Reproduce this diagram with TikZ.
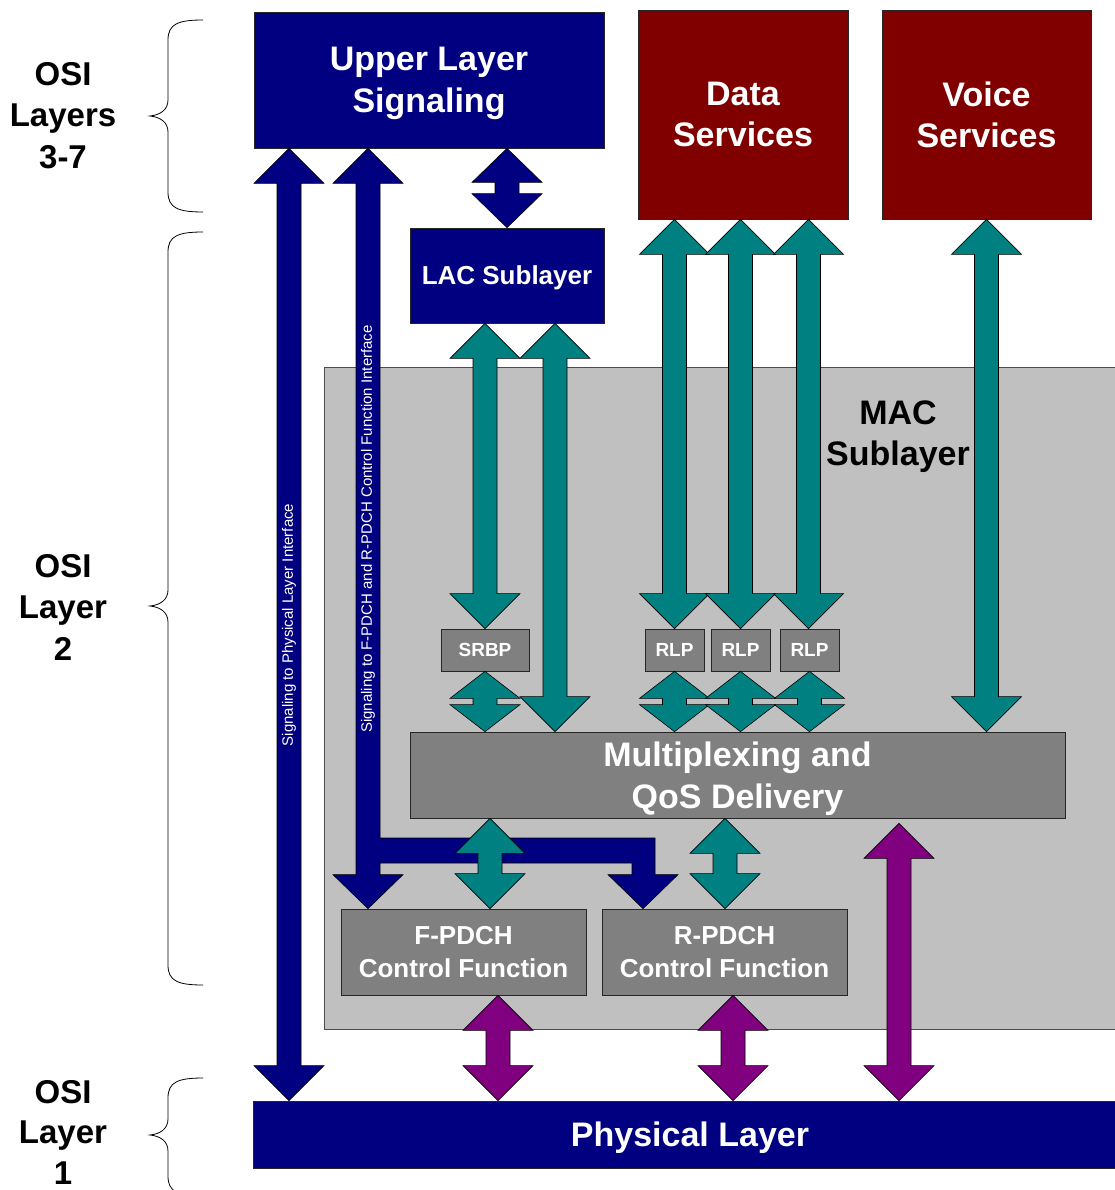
\documentclass[tikz,border=0pt]{standalone}
\usepackage{fontspec}
\setmainfont{Liberation Sans}
\usetikzlibrary{calc}
\definecolor{navyc}{HTML}{000080}
\definecolor{maroonc}{HTML}{800000}
\definecolor{tealc}{HTML}{008080}
\definecolor{purplec}{HTML}{800080}
\definecolor{macgray}{HTML}{C0C0C0}
\definecolor{boxgray}{HTML}{808080}
% #1 fill colour, #2 x (px), #3 top anchor, #4 bottom anchor, #5 head length
\newcommand\dblarr[5]{%
  \draw[blk,fill=#1] let \p1=(#3), \p2=(#4) in
   (#2pt,\y1) -- (#2pt+35pt,\y1-#5pt) -- (#2pt+12pt,\y1-#5pt) -- (#2pt+12pt,\y2+#5pt)
   -- (#2pt+35pt,\y2+#5pt) -- (#2pt,\y2) -- (#2pt-35pt,\y2+#5pt) -- (#2pt-12pt,\y2+#5pt)
   -- (#2pt-12pt,\y1-#5pt) -- (#2pt-35pt,\y1-#5pt) -- cycle;}
\begin{document}
\begin{tikzpicture}[x=1pt,y=-1pt,
  box/.style={draw=black!85, line width=0.7pt, inner sep=0pt, align=center, text=white,
    text depth=0pt, font=\bfseries\fontsize{34}{41.5}\selectfont},
  navybox/.style={box, fill=navyc},
  redbox/.style={box, fill=maroonc},
  graybox/.style={box, fill=boxgray},
  small/.style={font=\bfseries\fontsize{19}{22}\selectfont},
  mid/.style={font=\bfseries\fontsize{26}{33}\selectfont},
  osi/.style={align=center, text=black, text depth=0pt, font=\bfseries\fontsize{33}{41.5}\selectfont},
  blk/.style={draw=black, line width=0.6pt, line join=miter},
  brace/.style={draw=black, line width=0.8pt},
  vlabel/.style={rotate=90, text=white, font=\fontsize{15}{18}\selectfont, inner sep=0pt}]
\useasboundingbox (0,0) rectangle (1114,1190);

% MAC sublayer area
\node[draw=black!70, fill=macgray, line width=0.8pt, minimum width=796pt, minimum height=662pt, inner sep=0pt] (mac) at (722,698) {};
\node[osi, font=\bfseries\fontsize{34}{41.5}\selectfont] (mactext) at (898,433) {MAC\\Sublayer};

% boxes
\node[navybox, minimum width=350pt, minimum height=136pt] (ul) at (429,80) {Upper Layer\\Signaling};
\node[redbox, minimum width=210pt, minimum height=209pt] (ds) at (743,114.5) {Data\\Services};
\node[redbox, minimum width=209pt, minimum height=209pt] (vs) at (986.5,114.5) {Voice\\Services};
\node[navybox, mid, minimum width=194pt, minimum height=95pt] (lac) at (507,275.5) {LAC Sublayer};
\node[graybox, small, minimum width=88pt, minimum height=42pt] (srbp) at (485,650) {SRBP};
\node[graybox, small, minimum width=59pt, minimum height=42pt] (rlp1) at (674.5,650) {RLP};
\node[graybox, small, minimum width=59pt, minimum height=42pt] (rlp2) at (740.5,650) {RLP};
\node[graybox, small, minimum width=59pt, minimum height=42pt] (rlp3) at (809.5,650) {RLP};
\node[graybox, minimum width=655pt, minimum height=86pt] (mux) at (737.5,775) {Multiplexing and\\QoS Delivery};
\node[graybox, mid, minimum width=245pt, minimum height=86pt] (fp) at (463.5,952) {F-PDCH\\Control Function};
\node[graybox, mid, minimum width=245pt, minimum height=86pt] (rp) at (724.5,952) {R-PDCH\\Control Function};
\node[navybox, minimum width=874pt, minimum height=67pt] (phy) at (690,1134.5) {Physical Layer};

% navy signalling arrows
\dblarr{navyc}{289}{ul.south}{phy.north}{35}
\draw[blk, fill=navyc] let \p1=(ul.south), \p2=(fp.north), \p3=(rp.north) in
  (368pt,\y1) -- (403pt,\y1-35pt) -- (380pt,\y1-35pt) -- (380pt,-838pt) -- (655pt,-838pt)
  -- (655pt,\y3+34pt) -- (678pt,\y3+34pt) -- (643pt,\y3) -- (608pt,\y3+34pt) -- (632pt,\y3+34pt)
  -- (632pt,-863pt) -- (380pt,-863pt) -- (380pt,\y2+34pt) -- (403pt,\y2+34pt) -- (368pt,\y2)
  -- (333pt,\y2+34pt) -- (356pt,\y2+34pt) -- (356pt,\y1-35pt) -- (333pt,\y1-35pt) -- cycle;
\node[vlabel] (t1) at (289,625) {Signaling to Physical Layer Interface};
\node[vlabel] (t2) at (368,529) {Signaling to F-PDCH and R-PDCH Control Function Interface};
\dblarr{navyc}{507}{ul.south}{lac.north}{34}

% teal arrows
\dblarr{tealc}{485}{lac.south}{srbp.north}{35}
\dblarr{tealc}{555}{lac.south}{mux.north}{35}
\dblarr{tealc}{674.5}{ds.south}{rlp1.north}{35}
\dblarr{tealc}{740.5}{ds.south}{rlp2.north}{35}
\dblarr{tealc}{808.5}{ds.south}{rlp3.north}{35}
\dblarr{tealc}{986.5}{vs.south}{mux.north}{35}
\dblarr{tealc}{485}{srbp.south}{mux.north}{27}
\dblarr{tealc}{674.5}{rlp1.south}{mux.north}{27}
\dblarr{tealc}{740.5}{rlp2.south}{mux.north}{27}
\dblarr{tealc}{809.5}{rlp3.south}{mux.north}{27}
\dblarr{tealc}{490}{mux.south}{fp.north}{35}
\dblarr{tealc}{725}{mux.south}{rp.north}{35}

% purple arrows
\dblarr{purplec}{498}{fp.south}{phy.north}{35}
\dblarr{purplec}{733}{rp.south}{phy.north}{35}
\dblarr{purplec}{899}{[yshift=-5pt]mux.south}{phy.north}{35}

% OSI braces and labels
\draw[brace] (203,20) .. controls (178,20) and (168,24) .. (168,40) -- (168,100)
  .. controls (168,110) and (160,115) .. (150,116) .. controls (160,117) and (168,122) .. (168,132)
  -- (168,192) .. controls (168,208) and (178,212) .. (203,212);
\draw[brace] (203,232) .. controls (178,232) and (168,236) .. (168,252) -- (168,590)
  .. controls (168,600) and (160,605) .. (150,606) .. controls (160,607) and (168,612) .. (168,622)
  -- (168,965) .. controls (168,981) and (178,985) .. (203,985);
\draw[brace] (203,1078) .. controls (178,1078) and (168,1082) .. (168,1098) -- (168,1119)
  .. controls (168,1129) and (160,1134) .. (150,1135) .. controls (160,1136) and (168,1141) .. (168,1151)
  -- (168,1176) .. controls (168,1192) and (178,1196) .. (203,1196);
\node[osi] (osi37) at (63,115) {OSI\\Layers\\3-7};
\node[osi] (osi2) at (63,607) {OSI\\Layer\\2};
\node[osi, font=\bfseries\fontsize{33}{40.5}\selectfont] (osi1) at (63,1132) {OSI\\Layer\\1};
\end{tikzpicture}
\end{document}
